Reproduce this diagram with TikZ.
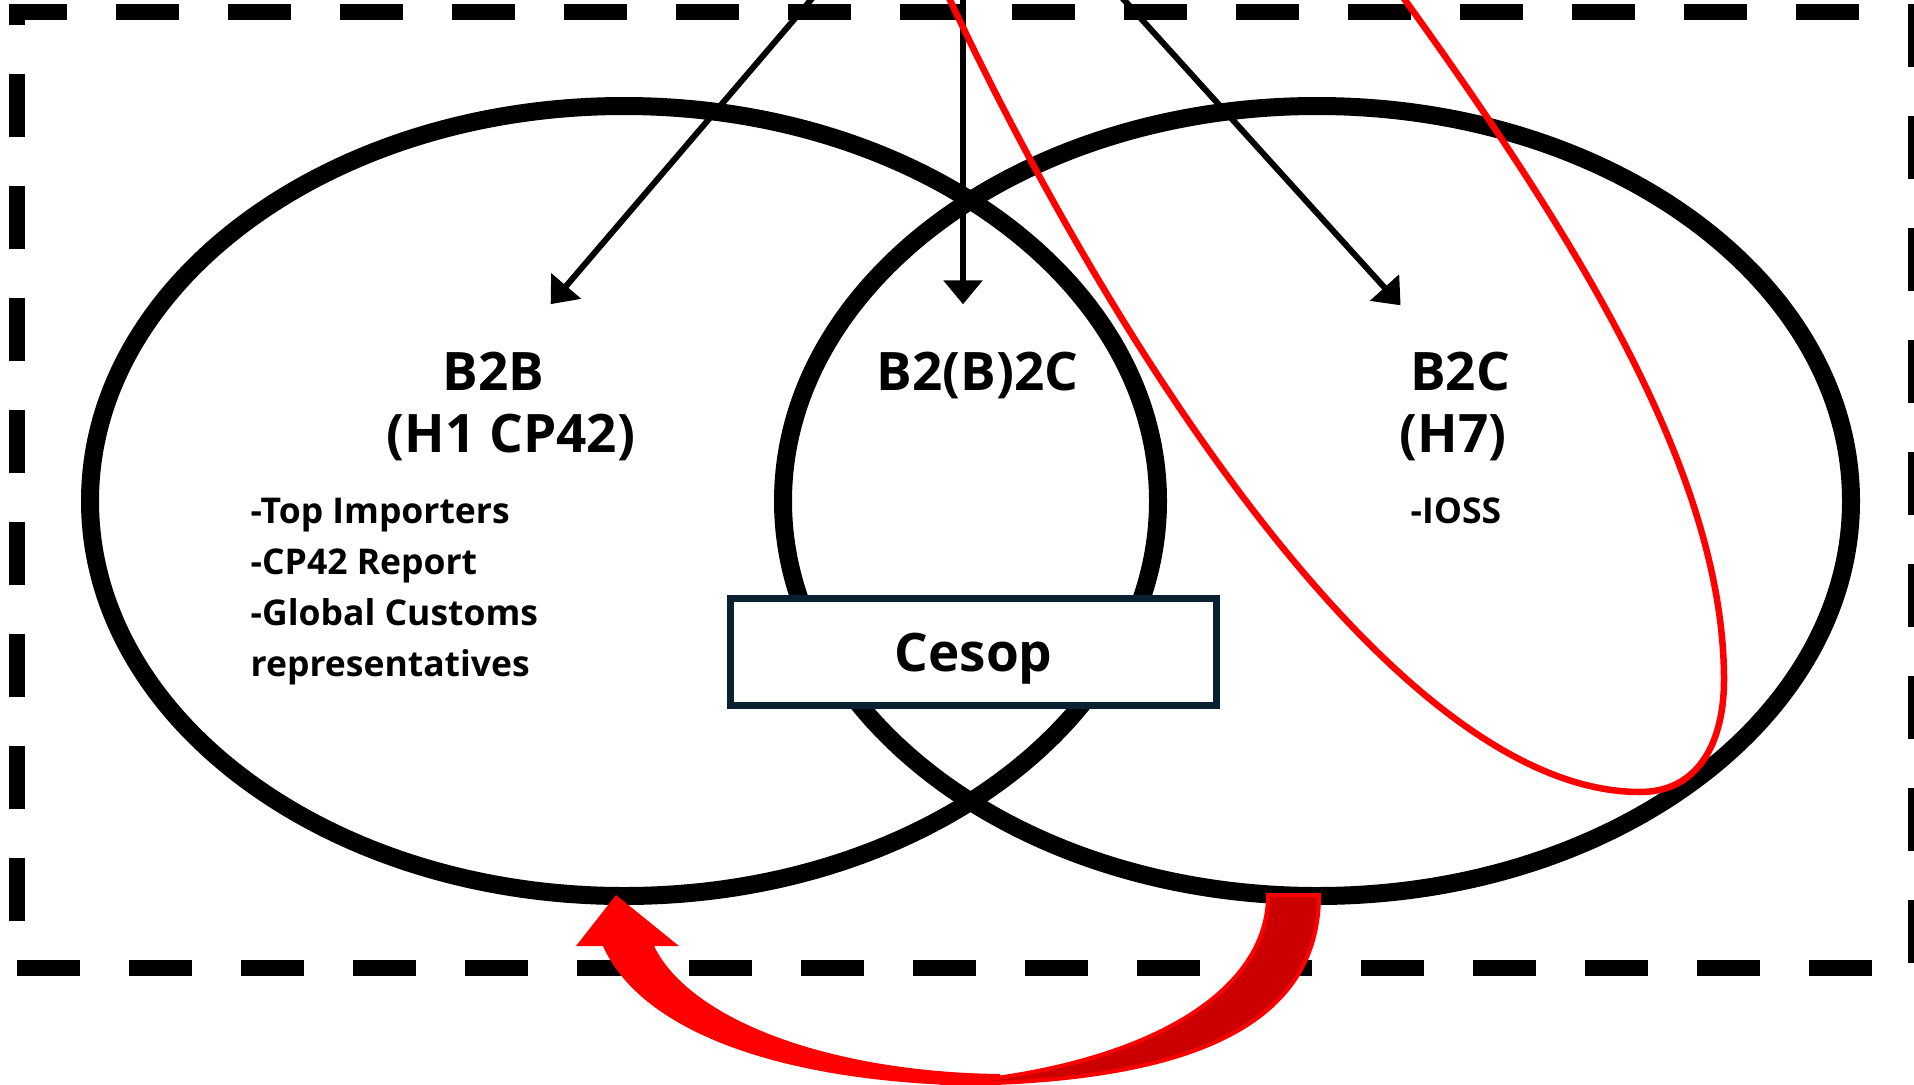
\documentclass[tikz,border=0pt]{standalone}
\usepackage{fontspec}
\setmainfont{Open Sans}
\usetikzlibrary{shapes.geometric,arrows.meta,positioning}
\definecolor{cesopnavy}{RGB}{8,32,48}
\definecolor{backred}{RGB}{204,0,0}

\begin{document}
\begin{tikzpicture}[
    venn/.style={draw, ellipse, line width=0.18cm, minimum width=10.68cm, minimum height=7.90cm, inner sep=0pt},
    title/.style={font=\fontsize{15.1}{18}\selectfont\bfseries, inner sep=0pt, text height=0.38cm, text depth=0pt},
    code/.style={font=\fontsize{15.1}{18}\selectfont\bfseries, inner sep=0pt, anchor=base},
    items/.style={font=\fontsize{10.1}{14.5}\selectfont\bfseries, inner sep=0pt, align=left, anchor=base west},
    feed/.style={-{Triangle[length=0.24cm, width=0.38cm]}, line width=0.06cm},
    frame/.style={line width=0.16cm, dash pattern=on 0.63cm off 0.49cm, dash phase=0.65cm}
]
    \useasboundingbox (0,0) rectangle (19.14,10.84);
    \clip (0,0) rectangle (19.14,10.84);

    % Dashed frame
    \draw[frame] (0.17,1.16) -- (0.17,10.72) -- (19.16,10.72) -- (19.16,1.16) -- cycle;

    % Venn ellipses
    \node[venn] (b2b) at (6.24,5.83) {};
    \node[venn] (b2c) at (13.17,5.83) {};

    % Cesop box
    \node[draw=cesopnavy, fill=white, line width=0.07cm, minimum width=4.86cm, minimum height=1.07cm, inner sep=0pt, text depth=0pt, font=\fontsize{15.1}{18}\selectfont\bfseries] (cesop) at (9.735,4.32) {Cesop};

    % Titles
    \node[title] (b2btitle) at (4.935,7.13) {B2B};
    \node[code] (b2bcode) at (5.11,6.32) {(H1 CP42)};
    \node[title] (b2b2ctitle) at (9.775,7.13) {B2(B)2C};
    \node[title] (b2ctitle) at (14.60,7.13) {B2C};
    \node[code] (b2ccode) at (14.53,6.32) {(H7)};

    % Lists
    \node[items] (b2blist) at (2.50,4.08) {-Top Importers\\-CP42 Report\\-Global Customs\\representatives};
    \node[items] (b2clist) at (14.10,5.61) {-IOSS};

    % Arrows from above
    \coordinate (src) at (9.63,12.62);
    \draw[feed, shorten >=0.62cm] (src) -- (b2btitle);
    \draw[feed, shorten >=0.47cm] (src) -- (src |- b2b2ctitle.north);
    \draw[feed, shorten >=0.62cm] (src) -- (b2ctitle);

    % Red loop
    \draw[red, line width=0.065cm] (9.27,11.34) -- (9.50,10.84)
        .. controls (11.00,7.64) and (13.90,2.92) .. (16.40,2.92)
        .. controls (17.00,2.92) and (17.24,3.44) .. (17.24,4.04)
        .. controls (17.24,6.04) and (15.85,8.34) .. (14.05,10.84) -- (13.69,11.34);

    % Curved arrow B2C -> B2B
    \fill[red] (10.00,-0.02) .. controls (7.80,-0.02) and (6.40,0.54) .. (6.03,1.38) -- (5.76,1.38) -- (6.16,1.89) -- (6.79,1.38) -- (6.54,1.38) .. controls (6.90,0.64) and (8.30,0.12) .. (10.00,0.10) -- cycle;
    \filldraw[fill=backred, draw=red, line width=0.04cm] (12.68,1.89) -- (13.19,1.89) .. controls (13.19,0.54) and (11.80,0.00) .. (9.40,0.00) .. controls (11.30,0.14) and (12.68,0.84) .. (12.68,1.89) -- cycle;

\end{tikzpicture}
\end{document}
